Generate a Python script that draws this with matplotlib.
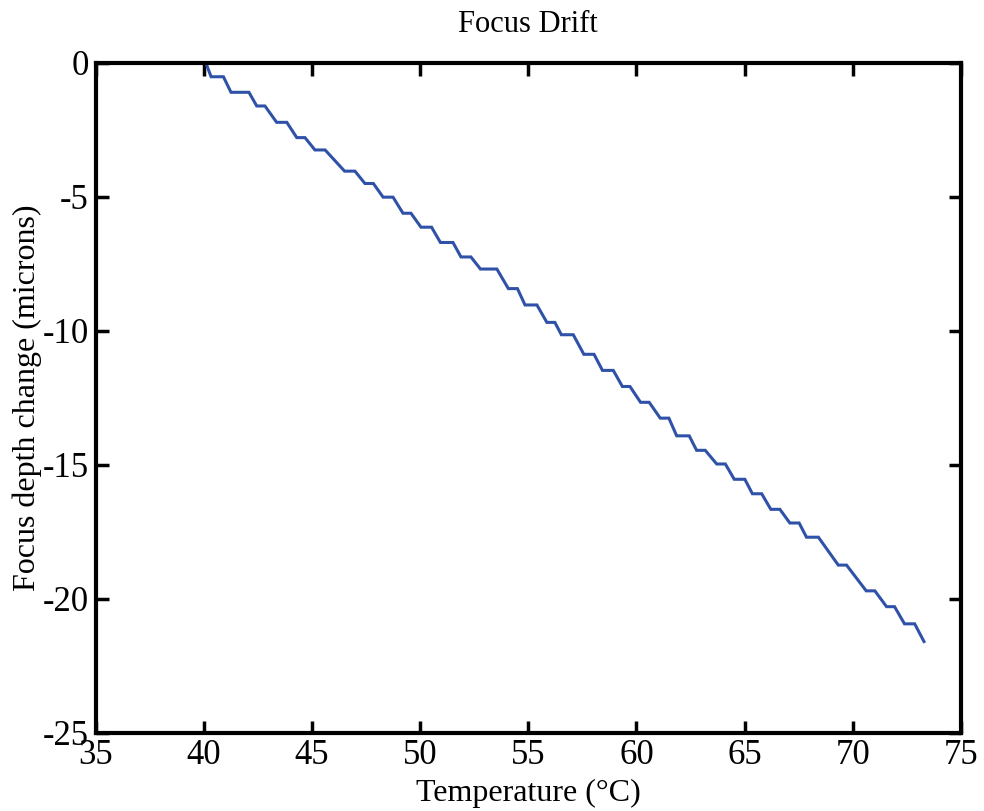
import matplotlib
matplotlib.use("Agg")
import matplotlib.pyplot as plt

# Staircase levels (microns) and the temperature span (°C) of each flat segment
step_level = [0.0, -0.53, -1.11, -1.62, -2.23, -2.80, -3.26, -4.05, -4.51, -5.02,
              -5.62, -6.14, -6.71, -7.25, -7.70, -8.43, -9.04, -9.69, -10.15, -10.88,
              -11.48, -12.08, -12.67, -13.26, -13.92, -14.46, -14.97, -15.54, -16.08,
              -16.66, -17.17, -17.70, -18.74, -19.70, -20.29, -20.93]
step_start = [39.52, 40.34, 41.26, 42.45, 43.37, 44.30, 45.14, 46.51, 47.45, 48.29,
              49.21, 50.04, 50.94, 51.89, 52.79, 54.08, 54.85, 55.86, 56.53, 57.57,
              58.43, 59.35, 60.19, 61.10, 61.86, 62.78, 63.71, 64.52, 65.36,
              66.21, 67.09, 67.86, 69.33, 70.62, 71.56, 72.39]
step_end = [40.09, 40.91, 42.09, 42.83, 43.84, 44.68, 45.61, 46.99, 47.84, 48.75,
            49.58, 50.53, 51.52, 52.35, 53.55, 54.50, 55.40, 56.23, 57.08, 58.04,
            58.93, 59.70, 60.59, 61.50, 62.44, 63.18, 64.11, 65.01, 65.79,
            66.63, 67.52, 68.41, 69.71, 71.02, 71.93, 72.86]
end_temp = 73.29
end_depth = -21.59

x_ticks = [35, 40, 45, 50, 55, 60, 65, 70, 75]
y_ticks = [0, -5, -10, -15, -20, -25]

temps, depths = [], []
for s, e, lv in zip(step_start, step_end, step_level):
    temps += [s, e]
    depths += [lv, lv]
temps.append(end_temp)
depths.append(end_depth)

plt.rcParams['font.family'] = ['Liberation Serif', 'DejaVu Serif']

fig = plt.figure(figsize=(9.84, 8.11), dpi=100)
ax = fig.add_axes([0.0971, 0.0962, 0.9766 - 0.0971, 0.9229 - 0.0962])
ax.plot(temps, depths, color='#2f52a8', linewidth=2.2, solid_joinstyle='miter')
ax.set_xlim(35, 75)
ax.set_ylim(-25, 0)
ax.set_xticks(x_ticks)
ax.set_yticks(y_ticks)
ax.set_xticklabels([str(t) for t in x_ticks])
ax.set_yticklabels([str(t) for t in y_ticks])
ax.tick_params(direction='in', length=9, width=2.5, top=True, right=True,
               labelsize=25, color='black')
ax.tick_params(axis='x', pad=4)
ax.tick_params(axis='y', pad=5)
for sp in ax.spines.values():
    sp.set_linewidth(3)
    sp.set_color('black')
ax.set_title('Focus Drift', fontsize=22, pad=22)
ax.set_xlabel('Temperature (°C)', fontsize=23, labelpad=5)
ax.set_ylabel('Focus depth change (microns)', fontsize=23, labelpad=0)
fig.savefig('out.png', dpi=100)
